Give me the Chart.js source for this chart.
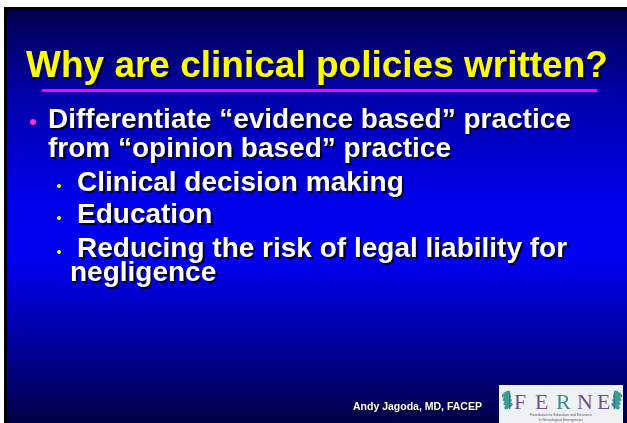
<!DOCTYPE html>
<html>
<head>
<meta charset="utf-8">
<script src="https://cdn.jsdelivr.net/npm/chart.js@4"></script>
<style>
  html, body { margin: 0; padding: 0; background: #fff; overflow: hidden; }
  #slide { display: block; }
</style>
</head>
<body>
<canvas id="slide" width="627" height="423"></canvas>
<script>
// slide content
const titleText = "Why are clinical policies written?";
const mainBullet = ["Differentiate \u201cevidence based\u201d practice", "from \u201copinion based\u201d practice"];
const subBullets = [
  ["Clinical decision making"],
  ["Education"],
  ["Reducing the risk of legal liability for", "negligence"]
];
const footerText = "Andy Jagoda, MD, FACEP";
const logoLetters = ["F", "E", "R", "N", "E"];
const logoCaption = ["Foundation for Education and Research", "in Neurological Emergencies"];

const FONT = '"Liberation Sans", Arial, sans-serif';

function shadowText(ctx, text, x, y, color, off) {
  ctx.fillStyle = "rgba(0,0,20,0.9)";
  ctx.fillText(text, x + off, y + off);
  ctx.fillStyle = color;
  ctx.fillText(text, x, y);
}

function drawLeaf(ctx, cx, cy, flip) {
  ctx.save();
  ctx.translate(cx, cy);
  ctx.scale(flip ? -1 : 1, 1);
  ctx.fillStyle = "#3f9a93";
  for (let i = 0; i < 4; i++) {
    ctx.beginPath();
    ctx.ellipse(-1 + i * 0.8, -7 + i * 4, 4.8, 2.2, -0.6, 0, Math.PI * 2);
    ctx.fill();
  }
  ctx.fillStyle = "#2d7d80";
  ctx.fillRect(2, -8, 1.3, 16);
  ctx.restore();
}

const slidePlugin = {
  id: "slide",
  beforeDraw(chart) {
    const ctx = chart.ctx;
    ctx.save();
    // white page, black frame
    ctx.fillStyle = "#ffffff";
    ctx.fillRect(0, 0, 627, 423);
    ctx.fillStyle = "#000000";
    ctx.fillRect(4, 7, 623, 416);
    const g = ctx.createLinearGradient(0, 10, 0, 423);
    g.addColorStop(0, "#00004e");
    g.addColorStop(0.2, "#0000a8");
    g.addColorStop(0.45, "#0000e8");
    g.addColorStop(0.6, "#0000f2");
    g.addColorStop(0.8, "#0000a0");
    g.addColorStop(1, "#000046");
    ctx.fillStyle = g;
    ctx.fillRect(7, 10, 620, 413);
    ctx.restore();
  },
  afterDraw(chart) {
    const ctx = chart.ctx;
    ctx.save();
    ctx.textBaseline = "alphabetic";
    ctx.textAlign = "left";

    // title
    ctx.font = "bold 37px " + FONT;
    shadowText(ctx, titleText, 26, 77, "#ffff00", 2);

    // underline
    ctx.fillStyle = "#ff00ff";
    ctx.fillRect(42, 89, 555, 3);

    // main bullet
    ctx.font = "bold 28px " + FONT;
    ctx.fillStyle = "#ff33cc";
    ctx.beginPath();
    ctx.arc(33, 122, 3, 0, Math.PI * 2);
    ctx.fill();
    shadowText(ctx, mainBullet[0], 48, 128, "#ffffff", 2);
    shadowText(ctx, mainBullet[1], 48, 157, "#ffffff", 2);

    // sub bullets
    const subBase = [191, 223, 257];
    subBullets.forEach((lines, i) => {
      const y = subBase[i];
      ctx.fillStyle = "#ffff00";
      ctx.beginPath();
      ctx.arc(59, y - 5, 2, 0, Math.PI * 2);
      ctx.fill();
      lines.forEach((t, j) => {
        shadowText(ctx, t, j === 0 ? 77 : 70, y + j * 24, "#ffffff", 2);
      });
    });

    // footer
    ctx.font = "bold 10.5px " + FONT;
    shadowText(ctx, footerText, 353, 410, "#ffffff", 1);

    // logo
    ctx.fillStyle = "#eef2f5";
    ctx.fillRect(499, 385, 124, 38);
    drawLeaf(ctx, 507, 401, false);
    drawLeaf(ctx, 617, 401, true);
    ctx.font = "22px \"Liberation Serif\", serif";
    const lx = [514, 535, 556, 577, 597];
    logoLetters.forEach((c, i) => {
      ctx.fillStyle = c === "R" ? "#3a8c8f" : "#6e4e96";
      ctx.fillText(c, lx[i], 409);
    });
    ctx.font = "3.5px " + FONT;
    ctx.fillStyle = "#556";
    ctx.textAlign = "center";
    ctx.fillText(logoCaption[0], 561, 416);
    ctx.fillText(logoCaption[1], 561, 421);
    ctx.restore();
  }
};

new Chart(document.getElementById("slide").getContext("2d"), {
  type: "scatter",
  data: { datasets: [{ data: [] }] },
  options: {
    responsive: false,
    animation: false,
    layout: { padding: 0 },
    plugins: { legend: { display: false }, tooltip: { enabled: false } },
    scales: { x: { display: false }, y: { display: false } }
  },
  plugins: [slidePlugin]
});
</script>
</body>
</html>
